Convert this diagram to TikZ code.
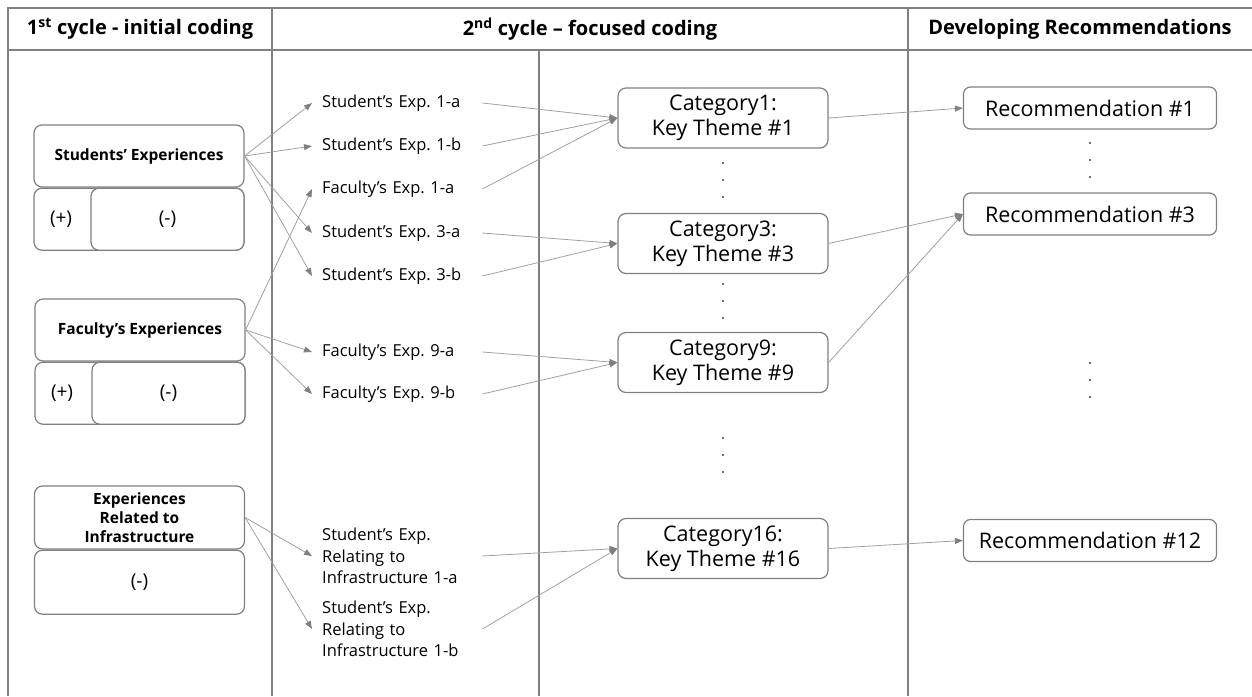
\documentclass[tikz,border=0pt]{standalone}
\usepackage{fontspec}
\setmainfont{Open Sans}
\usepackage{tikz}
\usetikzlibrary{positioning,arrows.meta}
\definecolor{gridgray}{HTML}{808080}
\definecolor{arrowgray}{HTML}{A0A0A0}
\frenchspacing
\tikzset{
head/.style={
font=\fontsize{20}{24}\selectfont\bfseries
},
expbox/.style={
draw=gridgray,
line width=1.2pt,
rounded corners=8pt,
minimum width=210pt,
minimum height=62pt,
align=center,
fill=white,
font=\fontsize{15.5}{19}\selectfont\bfseries
},
signbox/.style={
draw=gridgray,
line width=1.2pt,
rounded corners=8pt,
minimum height=62pt,
fill=white,
font=\fontsize{19}{22}\selectfont
},
codelabel/.style={
anchor=west,
text width=150pt,
inner xsep=10pt,
align=left,
font=\fontsize{16.5}{21.5}\selectfont
},
catbox/.style={
draw=gridgray,
line width=1.2pt,
rounded corners=8pt,
minimum width=210pt,
minimum height=60pt,
align=center,
font=\fontsize{21.5}{25}\selectfont
},
recbox/.style={
draw=gridgray,
line width=1.2pt,
rounded corners=7pt,
minimum width=253pt,
minimum height=42pt,
font=\fontsize{21.5}{25}\selectfont
},
gridline/.style={
draw=gridgray,
line width=1.3pt
},
arrow/.style={
-{Triangle[length=8pt,width=6pt,color=gridgray]},
draw=arrowgray,
line width=0.8pt
}
}

\begin{document}
\begin{tikzpicture}[x=1pt,y=-1pt]
\useasboundingbox (0,0) rectangle (1252,696);

% table
\draw[gridline] (8,696) -- (8,8) -- (1252,8);
\draw[gridline] (8,50) -- (1252,50);
\draw[gridline] (272,8) -- (272,696);
\draw[gridline] (908,8) -- (908,696);
\draw[gridline] (539,50) -- (539,696);

\node[head] (h1) at (140,29) {1\textsuperscript{st} cycle - initial coding};
\node[head] (h2) at (590,29) {2\textsuperscript{nd} cycle – focused coding};
\node[head] (h3) at (1080,29) {Developing Recommendations};

% 1st cycle
\node[expbox] (stu) at (139,156) {Students’ Experiences};
\node[signbox,text width=178pt,inner xsep=16pt,align=left,below=0pt of stu] (stuplus) {(+)};
\node[signbox,minimum width=153pt,anchor=north east] (stuminus) at (stuplus.north east) {(-)};

\node[expbox] (fac) at (140,330) {Faculty’s Experiences};
\node[signbox,text width=178pt,inner xsep=16pt,align=left,below=0pt of fac] (facplus) {(+)};
\node[signbox,minimum width=153pt,anchor=north east] (facminus) at (facplus.north east) {(-)};

\node[expbox,minimum height=63pt] (inf) at (139.5,517.5) {Experiences\\Related to\\Infrastructure};
\node[signbox,minimum width=210pt,minimum height=64pt,below=0pt of inf] (infminus) {(-)};

% 2nd cycle
\node[codelabel] (s1a) at (312,103) {Student’s Exp. 1-a};
\node[codelabel] (s1b) at (312,146) {Student’s Exp. 1-b};
\node[codelabel] (f1a) at (312,189) {Faculty’s Exp. 1-a};
\node[codelabel] (s3a) at (312,233) {Student’s Exp. 3-a};
\node[codelabel] (s3b) at (312,276) {Student’s Exp. 3-b};
\node[codelabel] (f9a) at (312,352) {Faculty’s Exp. 9-a};
\node[codelabel] (f9b) at (312,394) {Faculty’s Exp. 9-b};
\node[codelabel] (i1a) at (312,556) {Student’s Exp.\\Relating to\\Infrastructure 1-a};
\node[codelabel] (i1b) at (312,629) {Student’s Exp.\\Relating to\\Infrastructure 1-b};

\node[catbox] (cat1) at (723,118) {Category1:\\Key Theme \#1};
\node[catbox] (cat3) at (723,243.5) {Category3:\\Key Theme \#3};
\node[catbox] (cat9) at (723,362.5) {Category9:\\Key Theme \#9};
\node[catbox] (cat16) at (723,548.5) {Category16:\\Key Theme \#16};

% recommendations
\node[recbox] (rec1) at (1090,108) {Recommendation \#1};
\node[recbox] (rec3) at (1090,214) {Recommendation \#3};
\node[recbox] (rec12) at (1090,540.5) {Recommendation \#12};

\foreach \x/\y in {723/180,723/301,723/455,1090/160,1090/380}
\foreach \d in {-17,0,17}
\fill[black!75] (\x,\y+\d) circle (1.1);

\foreach \a/\b in {stu/s1a,stu/s1b,stu/s3a,stu/s3b,fac/f1a,fac/f9a,fac/f9b,inf/i1a,inf/i1b}
\draw[arrow] (\a.east) -- (\b.west);

\foreach \a/\b in {s1a/cat1,s1b/cat1,f1a/cat1,s3a/cat3,s3b/cat3,f9a/cat9,f9b/cat9,i1a/cat16,i1b/cat16}
\draw[arrow] (\a.east) -- (\b.west);

\foreach \a/\b in {cat1/rec1,cat3/rec3,cat9/rec3,cat16/rec12}
\draw[arrow] (\a.east) -- (\b.west);
\end{tikzpicture}
\end{document}
